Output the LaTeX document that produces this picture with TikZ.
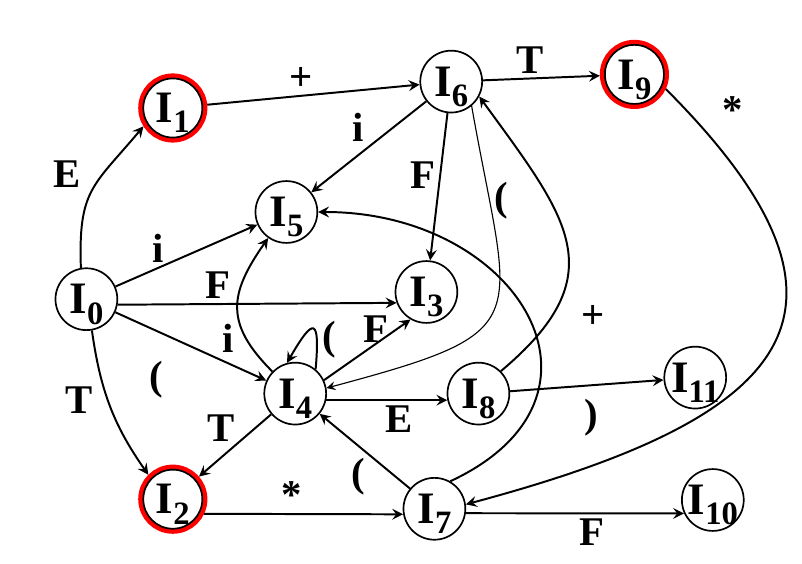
\documentclass[tikz,border=0pt]{standalone}
\usepackage{fontspec}
\setmainfont{Liberation Serif}
\usetikzlibrary{positioning}
\newcommand{\Ist}[1]{I\raisebox{-3.6pt}[0pt][0pt]{\fontsize{11.6}{12}\selectfont #1}}

\begin{document}
\begin{tikzpicture}[>=stealth, line width=0.7pt,
  state/.style={circle, draw, line width=0.6pt, minimum size=22pt, inner sep=0pt,
    font=\fontsize{16}{18}\selectfont\bfseries},
  final/.style={state, minimum size=21pt, fill=white, outer sep=1.8pt, preaction={draw=red, line width=3.6pt}},
  lbl/.style={inner sep=1.5pt, font=\fontsize{14.5}{17}\selectfont\bfseries}]
  \useasboundingbox (0,0) rectangle (10.025,7.05);

  % states
  \node[state] (I0) at (1.08,3.31) {\Ist{0}};
  \node[final] (I1) at (2.16,5.70) {\Ist{1}};
  \node[final] (I2) at (2.16,0.81) {\Ist{2}};
  \node[state] (I3) at (5.33,3.40) {\Ist{3}};
  \node[state] (I4) at (3.69,2.13) {\Ist{4}};
  \node[state] (I5) at (3.58,4.40) {\Ist{5}};
  \node[state] (I6) at (5.64,6.03) {\Ist{6}};
  \node[state] (I7) at (5.43,0.69) {\Ist{7}};
  \node[state] (I8) at (5.98,2.13) {\Ist{8}};
  \node[final] (I9) at (7.93,6.12) {\Ist{9}};
  \node[state] (I10) at (8.91,0.80) {\Ist{10}};
  \node[state] (I11) at (8.69,2.33) {\Ist{11}};

  % from I0
  \draw[->] (I0.100) to[out=92, in=230, looseness=1.3] node[lbl, pos=0.65, left=6pt] {E} (I1.212);
  \draw[->] (I0) -- (I5) node[lbl, pos=0.3, above] {i};
  \draw[->] (I0.-10) -- (I3.-160) node[lbl, pos=0.36, above] {F};
  \draw[->] (I0) -- (I4) node[lbl, pos=0.39, below left, xshift=-2pt, yshift=-6pt] {(};
  \draw[->] (I0.-80) to[out=-82, in=125] node[lbl, pos=0.45, left=3.5pt] {T} (I2.135);

  % top row
  \draw[->] (I1) -- (I6) node[lbl, pos=0.44, above] {+};
  \draw[->] (I6) -- (I9) node[lbl, pos=0.4, above] {T};
  \draw[->] (I6) -- (I5) node[lbl, midway, above left] {i};
  \draw[->] (I6) -- (I3) node[lbl, pos=0.42, left] {F};
  \draw[->, line width=0.4pt] (I6.-50) to[out=-80, in=15, looseness=1.8] node[lbl, pos=0.17, right] {(} (I4.10);
  \draw[->] (I9.-25) to[out=-45, in=15, looseness=1.8] node[lbl, pos=0.06, above right, xshift=5pt] {*} (I7.8);

  % from I4
  \draw[->] (I4.136) to[out=135, in=235, looseness=1.3] node[lbl, pos=0.25, left=2.5pt] {i} (I5.235);
  \draw[->] (I4.50) to[out=85, in=60, looseness=4.6] node[lbl, pos=0.25, right] {(} (I4.105);
  \draw[->] (I4.25) -- (I3.-120) node[lbl, pos=0.6, above, inner sep=0pt] {F};
  \draw[->] (I4) -- (I2) node[lbl, pos=0.47, above left, inner sep=0.5pt] {T};
  \draw[->] (I4.-12) -- (I8.-168) node[lbl, pos=0.6, below] {E};

  % from I8, I7, I2
  \draw[->] (I8.45) to[out=40, in=-54, looseness=1.4] node[lbl, pos=0.2, right=9pt] {+} (I6.-28);
  \draw[->] (I8) -- (I11) node[lbl, pos=0.53, below=3pt] {)};
  \draw[->] (I7.60) to[out=25, in=0, looseness=1.7] (I5);
  \draw[->] (I7) -- (I4) node[lbl, pos=0.46, below left, inner sep=1pt] {(};
  \draw[->] (I2.-25) -- (I7.-170) node[lbl, pos=0.44, above] {*};
  \draw[->] (I7.-8) -- (I10.-155) node[lbl, pos=0.58, below] {F};
\end{tikzpicture}
\end{document}
